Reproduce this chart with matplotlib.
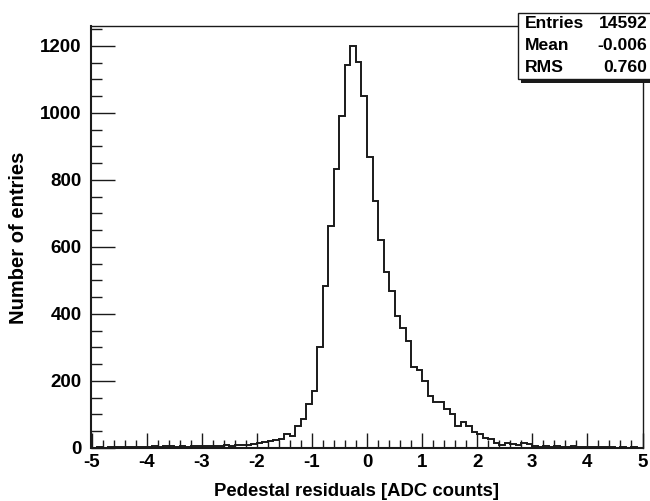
import numpy as np
import matplotlib
matplotlib.use("Agg")
import matplotlib.pyplot as plt
from matplotlib.patches import Rectangle
from matplotlib.ticker import MultipleLocator

# ---- data ----
bin_edges = np.round(np.linspace(-5, 5, 101), 2)
counts = [
    1, 2, 1, 2, 3, 2, 3, 2, 4, 3,
    3, 5, 4, 6, 5, 4, 5, 4, 6, 5,
    6, 7, 6, 7, 8, 6, 8, 9, 10, 12,
    14, 18, 20, 25, 26, 42, 37, 65, 86, 130,
    171, 301, 484, 661, 833, 992, 1143, 1200, 1152, 1049,
    868, 738, 622, 524, 467, 395, 358, 320, 243, 233,
    199, 155, 136, 136, 116, 101, 66, 78, 66, 48,
    41, 31, 28, 16, 8, 14, 12, 8, 16, 12,
    5, 4, 6, 3, 5, 3, 2, 6, 3, 2,
    3, 2, 3, 2, 4, 1, 2, 1, 2, 1,
]
x_ticks = [-5, -4, -3, -2, -1, 0, 1, 2, 3, 4, 5]
y_ticks = [0, 200, 400, 600, 800, 1000, 1200]
stats_labels = ["Entries", "Mean", "RMS"]
stats_values = ["14592", "-0.006", "0.760"]

plt.rcParams['font.family'] = ['Liberation Sans', 'DejaVu Sans']
plt.rcParams['font.weight'] = 'bold'

W, H = 650, 501
fig = plt.figure(figsize=(W / 100, H / 100), dpi=100)
ax = fig.add_axes([91.5 / W, 1 - 448 / H, (642.5 - 91.5) / W, (448 - 25.7) / H])

ax.stairs(counts, bin_edges, color='#1a1a1a', lw=1.4)
ax.set_xlim(-5, 5)
ax.set_ylim(0, 1260)

ax.set_xticks(x_ticks)
ax.set_xticklabels([str(t) for t in x_ticks])
ax.set_yticks(y_ticks)
ax.set_yticklabels([str(t) for t in y_ticks])
ax.xaxis.set_minor_locator(MultipleLocator(0.2))
ax.yaxis.set_minor_locator(MultipleLocator(50))
ax.tick_params(axis='both', which='both', direction='in', top=False, right=False,
               color='#1a1a1a', width=1.0)
ax.tick_params(axis='x', which='major', length=11, pad=4, labelsize=13.5)
ax.tick_params(axis='x', which='minor', length=5.5)
ax.tick_params(axis='y', which='major', length=17, pad=7, labelsize=13.5)
ax.tick_params(axis='y', which='minor', length=8)
for lab in ax.get_xticklabels() + ax.get_yticklabels():
    lab.set_fontweight('bold')
for s in ax.spines.values():
    s.set_linewidth(1.0)
    s.set_color('#1a1a1a')
ax.spines['left'].set_linewidth(1.5)
ax.spines['bottom'].set_linewidth(1.5)

fig.text(356 / W, 1 - 492 / H, "Pedestal residuals [ADC counts]", ha='center', va='center',
         fontsize=13.3, fontweight='bold')
fig.text(19 / W, 1 - 238 / H, "Number of entries", ha='center', va='center',
         rotation=90, fontsize=14.5, fontweight='bold')

# stats box
bx0, by_top, by_bot = 518, 13, 79
shadow = Rectangle(((bx0 + 3) / W, 1 - (by_bot + 3.5) / H),
                   (W - bx0) / W, (by_bot - by_top) / H,
                   transform=fig.transFigure, facecolor='#1a1a1a', edgecolor='none', zorder=5)
fig.patches.append(shadow)
box = Rectangle((bx0 / W, 1 - by_bot / H), (W + 5 - bx0) / W, (by_bot - by_top) / H,
                transform=fig.transFigure, facecolor='white', edgecolor='#1a1a1a', lw=1.0, zorder=6)
fig.patches.append(box)
rows_y = [23, 46, 68]
for lab, val, yy in zip(stats_labels, stats_values, rows_y):
    fig.text(525 / W, 1 - yy / H, lab, ha='left', va='center', fontsize=12.6,
             fontweight='bold', zorder=7)
    fig.text(647.5 / W, 1 - yy / H, val, ha='right', va='center', fontsize=12.6,
             fontweight='bold', zorder=7)

fig.savefig("out.png", dpi=100)
